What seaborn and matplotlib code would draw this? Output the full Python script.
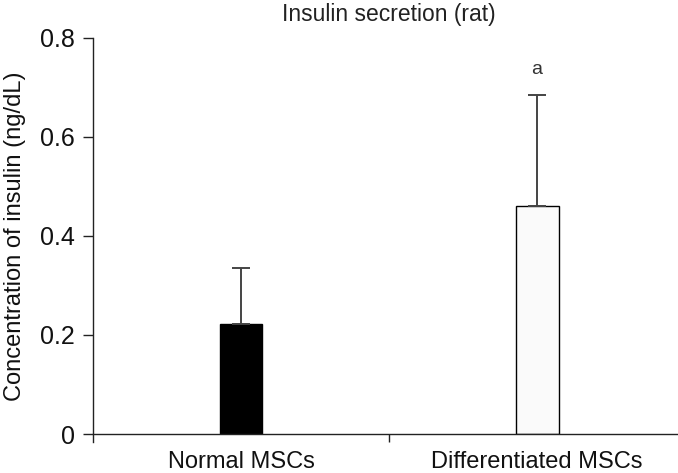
import matplotlib
matplotlib.use("Agg")
import matplotlib.pyplot as plt
import pandas as pd
import seaborn as sns

# data
groups = ["Normal MSCs", "Differentiated MSCs"]
means = [0.222, 0.461]
errors = [0.113, 0.224]
bar_colors = ["#000000", "#fafafa"]
marks = ["", "a"]

sns.set_style("ticks")
plt.rcParams['font.family'] = ['Liberation Sans', 'DejaVu Sans']

df = pd.DataFrame({"group": groups, "conc": means})

fig = plt.figure(figsize=(6.78, 4.73), dpi=100)
ax = fig.add_axes([93 / 678, 1 - 434 / 473, (678 - 93) / 678, (434 - 38) / 473])

sns.barplot(data=df, x="group", y="conc", hue="group", palette=bar_colors,
            width=0.145, edgecolor="black", linewidth=1.0, legend=False, ax=ax)

# upward-only error bars
ax.errorbar(range(len(groups)), means, yerr=[[0] * len(groups), errors],
            fmt="none", ecolor="#444444", elinewidth=1.4, capsize=6.5,
            capthick=1.4, zorder=1)

for i, m in enumerate(marks):
    if m:
        ax.text(i, means[i] + errors[i] + 0.035, m, ha="center", va="bottom",
                fontsize=14, color="#333333")

ax.set_xlim(-0.5, 1.476)
ax.set_ylim(0, 0.8)
ax.set_yticks([0, 0.2, 0.4, 0.6, 0.8])
ax.set_yticklabels(["0", "0.2", "0.4", "0.6", "0.8"])
ax.set_xticks([0, 1])
ax.set_xticklabels(groups)
ax.set_xticks([0.5], minor=True)
ax.tick_params(axis="x", which="major", length=0, pad=12, labelsize=17,
               labelcolor="#111111")
ax.tick_params(axis="x", which="minor", length=6, width=1.0, color="#222222")
ax.tick_params(axis="y", length=7, width=1.0, labelsize=18, pad=6,
               color="#222222", labelcolor="#111111")

ax.set_xlabel("")
ax.set_ylabel("Concentration of insulin (ng/dL)", fontsize=17, labelpad=10,
              color="#111111")

sns.despine(ax=ax)
for s in ["left", "bottom"]:
    ax.spines[s].set_linewidth(1.0)
    ax.spines[s].set_color("#222222")
ax.spines["left"].set_bounds(-0.016, 0.8)

fig.text(389 / 678, 1 - 15 / 473, "Insulin secretion (rat)", ha="center",
         va="center", fontsize=16.5, color="#222222")

fig.savefig("out.png", dpi=100)
